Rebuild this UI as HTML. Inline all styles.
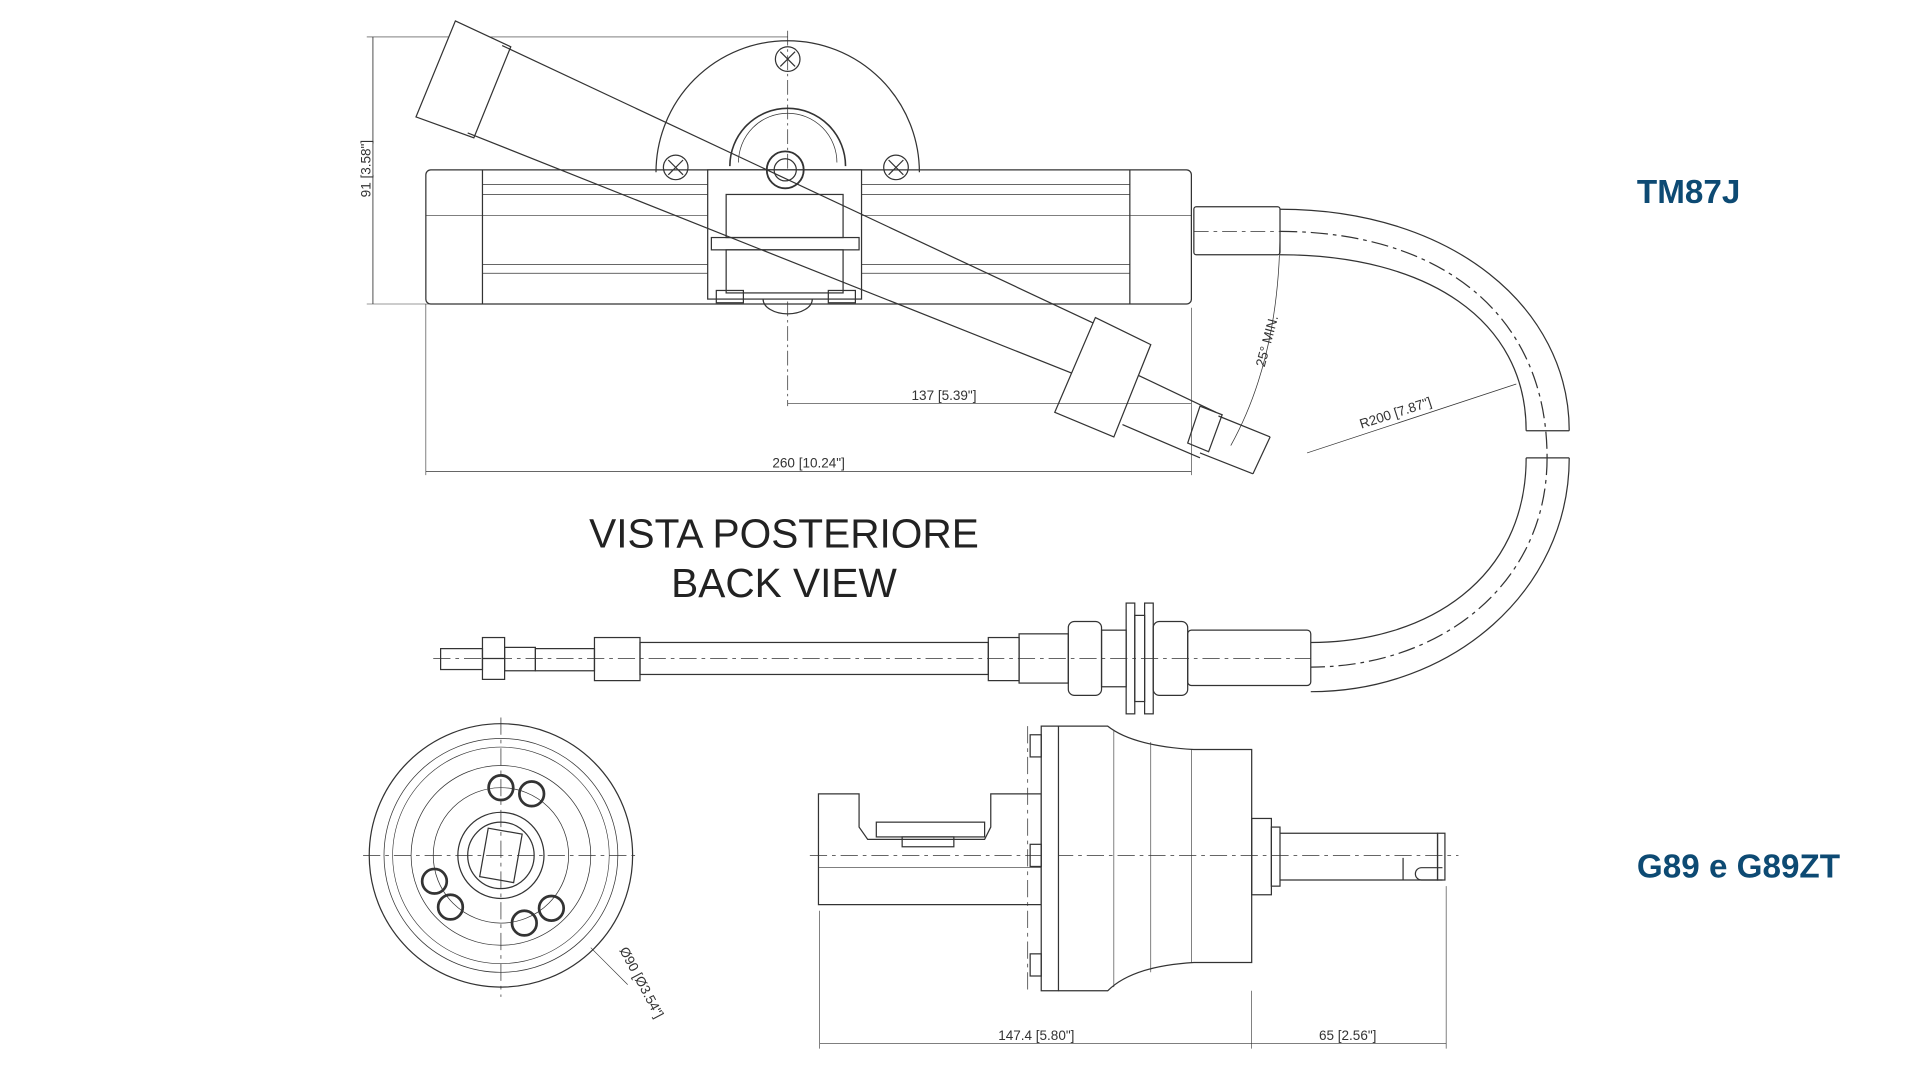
<!DOCTYPE html>
<html><head><meta charset="utf-8"><style>
html,body{margin:0;padding:0;background:#fff;width:1920px;height:1080px;overflow:hidden}
svg{display:block}
text{font-family:"Liberation Sans",sans-serif}
</style></head><body>
<svg width="1920" height="1080" viewBox="0 0 1560 877.5" preserveAspectRatio="none" xmlns="http://www.w3.org/2000/svg">
<g fill="none" stroke="#333" stroke-width="1">
<!-- top dims -->
<line x1="303" y1="30" x2="303" y2="247" stroke-width="0.7"/>
<line x1="298" y1="30" x2="640" y2="30" stroke-width="0.5"/>
<line x1="298" y1="247" x2="580" y2="247" stroke-width="0.5"/>
<!-- mount semicircle -->
<path d="M533,140 A107,107 0 0 1 747,140"/>
<line x1="525" y1="138" x2="755" y2="138" stroke-dasharray="10,3,2,3" stroke-width="0.6"/>
<line x1="640" y1="25" x2="640" y2="330" stroke-dasharray="12,3,2,3" stroke-width="0.6"/>
<circle cx="640" cy="48" r="10"/><path d="M634,42 l12,12 M646,42 l-12,12"/>
<circle cx="549" cy="136" r="10"/><path d="M543,130 l12,12 M555,130 l-12,12"/>
<circle cx="728" cy="136" r="10"/><path d="M722,130 l12,12 M734,130 l-12,12"/>
<!-- cylinder -->
<rect x="346" y="138" width="622" height="109" rx="4"/>
<line x1="392" y1="138" x2="392" y2="247"/><line x1="918" y1="138" x2="918" y2="247"/>
<line x1="392" y1="150" x2="918" y2="150" stroke-width="0.6"/>
<line x1="392" y1="158" x2="918" y2="158" stroke-width="0.6"/>
<line x1="346" y1="175" x2="968" y2="175" stroke-width="0.5"/>
<line x1="392" y1="215" x2="918" y2="215" stroke-width="0.6"/>
<line x1="392" y1="222" x2="918" y2="222" stroke-width="0.6"/>
<!-- center block -->
<path d="M593,135 A47,47 0 0 1 687,135" stroke-width="1.3"/>
<path d="M600,132 A40,40 0 0 1 680,132" stroke-width="0.6"/>
<rect x="575" y="138" width="125" height="105" fill="#fff"/>
<rect x="590" y="158" width="95" height="35"/>
<rect x="578" y="193" width="120" height="10"/>
<rect x="590" y="203" width="95" height="35"/>
<rect x="582" y="236" width="22" height="10"/><rect x="673" y="236" width="22" height="10"/>
<path d="M620,243 A20,12 0 0 0 660,243"/>
<circle cx="638" cy="138" r="15" stroke-width="1.5"/><circle cx="638" cy="138" r="9"/>
<!-- lever -->
<path d="M370,17 L415,38 L385,112 L338,95 Z" fill="#fff"/>
<line x1="408" y1="37" x2="932" y2="283"/>
<line x1="380" y1="108" x2="893" y2="312"/>
<path d="M890,258 L935,280 L905,355 L857,335 Z" fill="#fff"/>
<path d="M925,305 L988,335 M912,345 L975,372"/>
<path d="M975,330 L993,337 L982,367 L965,360 Z"/>
<path d="M990,338 L1032,355 M975,368 L1018,385 M1032,355 L1018,385"/>
<!-- dims -->
<line x1="640" y1="328" x2="968" y2="328" stroke-width="0.6"/>
<line x1="346" y1="383" x2="968" y2="383" stroke-width="0.6"/>
<line x1="346" y1="247" x2="346" y2="386" stroke-width="0.5"/>
<line x1="968" y1="250" x2="968" y2="386" stroke-width="0.5"/>
<path d="M1040,185 Q1040,290 1000,362" stroke-width="0.6"/>
<!-- cable top -->
<rect x="970" y="168" width="70" height="39" rx="2"/>
<line x1="970" y1="188" x2="1040" y2="188" stroke-dasharray="12,4,3,4" stroke-width="0.6"/>
<path d="M1040,170 C1180,170 1275,250 1275,350"/>
<path d="M1040,207 C1160,207 1240,260 1240,350"/>
<path d="M1040,188 C1170,188 1257,255 1257,372" stroke-dasharray="14,4,3,4"/>
<path d="M1240,350 H1275 M1240,372 H1275"/>
<path d="M1275,372 C1275,480 1180,562 1065,562"/>
<path d="M1240,372 C1240,470 1160,522 1065,522"/>
<path d="M1257,372 C1257,475 1170,542 1065,542" stroke-dasharray="14,4,3,4"/>
<line x1="1062" y1="368" x2="1232" y2="312" stroke-width="0.6"/>
<!-- lower cable assembly -->
<line x1="352" y1="535" x2="1065" y2="535" stroke-dasharray="14,4,3,4" stroke-width="0.6"/>
<rect x="358" y="527" width="34" height="17"/>
<rect x="392" y="518" width="18" height="34"/>
<line x1="392" y1="535" x2="410" y2="535"/>
<rect x="410" y="526" width="25" height="19"/>
<rect x="435" y="527" width="48" height="18"/>
<rect x="483" y="518" width="37" height="35"/>
<rect x="520" y="522" width="283" height="26"/>
<rect x="803" y="518" width="25" height="35"/>
<rect x="828" y="515" width="40" height="40"/>
<rect x="868" y="505" width="27" height="60" rx="5"/>
<rect x="895" y="512" width="20" height="46"/>
<rect x="915" y="490" width="7" height="90"/>
<rect x="922" y="500" width="8" height="70"/>
<rect x="930" y="490" width="7" height="90"/>
<rect x="937" y="505" width="28" height="60" rx="5"/>
<rect x="965" y="512" width="100" height="45" rx="3"/>
<!-- bottom left circle view -->
<line x1="295" y1="695" x2="520" y2="695" stroke-dasharray="14,4,3,4" stroke-width="0.6"/>
<line x1="407" y1="583" x2="407" y2="810" stroke-dasharray="14,4,3,4" stroke-width="0.6"/>
<circle cx="407" cy="695" r="107"/>
<circle cx="407" cy="695" r="95" stroke-width="0.6"/>
<circle cx="407" cy="695" r="88" stroke-width="0.5"/>
<circle cx="407" cy="695" r="73" stroke-width="0.6"/>
<circle cx="407" cy="695" r="55" stroke-width="0.6"/>
<circle cx="407" cy="695" r="35"/>
<circle cx="407" cy="695" r="27"/>
<rect x="393" y="675" width="28" height="40" transform="rotate(10 407 695)"/>
<g stroke-width="2.2"><circle cx="407" cy="640" r="10"/><circle cx="432" cy="645" r="10"/><circle cx="353" cy="716" r="10"/><circle cx="366" cy="737" r="10"/><circle cx="448" cy="738" r="10"/><circle cx="426" cy="750" r="10"/></g>
<line x1="480" y1="770" x2="510" y2="800" stroke-width="0.5"/>
<!-- side view -->
<line x1="658" y1="695" x2="1185" y2="695" stroke-dasharray="14,4,3,4" stroke-width="0.6"/>
<line x1="835" y1="590" x2="835" y2="805" stroke-dasharray="14,4,3,4" stroke-width="0.6"/>
<path d="M665,735 V645 H698 V672 L705,682 H800 L805,672 V645 H846 V735 Z"/>
<rect x="712" y="668" width="88" height="12"/>
<rect x="733" y="680" width="42" height="8"/>
<line x1="665" y1="705" x2="846" y2="705" stroke-width="0.6"/>
<path d="M846,590 H860 V805 H846 Z" fill="#fff"/>
<rect x="837" y="597" width="9" height="18"/><rect x="837" y="686" width="9" height="18"/><rect x="837" y="775" width="9" height="18"/>
<path d="M860,590 H900 Q920,606 970,609 H1017 V782 H970 Q920,785 900,805 H860"/>
<line x1="905" y1="593" x2="905" y2="802" stroke-width="0.5"/>
<line x1="935" y1="603" x2="935" y2="790" stroke-width="0.5"/>
<line x1="968" y1="609" x2="968" y2="782" stroke-width="0.5"/>
<rect x="1017" y="665" width="16" height="62"/>
<rect x="1033" y="672" width="7" height="48"/>
<path d="M1040,677 H1168 V715 H1040"/>
<rect x="1168" y="677" width="6" height="38"/>
<path d="M1140,697 V715 M1155,705 H1172 M1155,715 H1172 M1155,705 A5,5 0 0 0 1155,715"/>
<line x1="666" y1="740" x2="666" y2="852" stroke-width="0.5"/>
<line x1="1017" y1="805" x2="1017" y2="852" stroke-width="0.5"/>
<line x1="1175" y1="720" x2="1175" y2="852" stroke-width="0.5"/>
<line x1="666" y1="848" x2="1175" y2="848" stroke-width="0.6"/>
</g>
<g fill="#333" font-size="11">
<text x="0" y="0" transform="translate(301,137) rotate(-90)" text-anchor="middle">91 [3.58"]</text>
<text x="767" y="325" text-anchor="middle">137 [5.39"]</text>
<text x="657" y="380" text-anchor="middle">260 [10.24"]</text>
<text transform="translate(1033,278) rotate(-75)" text-anchor="middle">25° MIN.</text>
<text transform="translate(1135,339) rotate(-18)" text-anchor="middle">R200 [7.87"]</text>
<text transform="translate(518,800) rotate(62)" text-anchor="middle">Ø90 [Ø3.54"]</text>
<text x="842" y="845" text-anchor="middle">147.4 [5.80"]</text>
<text x="1095" y="845" text-anchor="middle">65 [2.56"]</text>
</g>
<g fill="#222" font-size="33" text-anchor="middle">
<text x="637" y="445">VISTA POSTERIORE</text>
<text x="637" y="485">BACK VIEW</text>
</g>
<g fill="#0d4a73" font-size="27" font-weight="bold">
<text x="1330" y="165">TM87J</text>
<text x="1330" y="713">G89 e G89ZT</text>
</g>
</svg>
</body></html>
